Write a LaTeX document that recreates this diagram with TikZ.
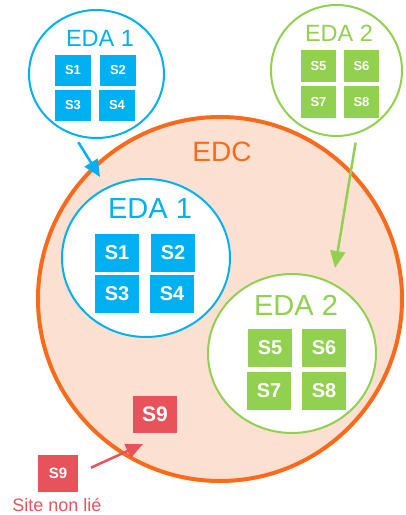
\documentclass[tikz,border=0pt]{standalone}
\usepackage{fontspec}
\setmainfont{Liberation Sans}
\usetikzlibrary{arrows.meta, shapes.geometric}

\definecolor{edablue}{HTML}{00B0F0}
\definecolor{edagreen}{HTML}{92D050}
\definecolor{edcorange}{HTML}{F96B1B}
\definecolor{edcfill}{HTML}{FCE1D3}
\definecolor{sitered}{HTML}{E8525A}
\newcommand{\fsz}[1]{\fontsize{#1}{#1}\selectfont}

\begin{document}
\begin{tikzpicture} [x=1pt, y=-1pt, align=center,
	zone/.style={ellipse, draw=#1, fill=white, line width=2pt, inner sep=0pt},
	zonename/.style={text=#1, inner sep=0pt},
	site/.style={fill=#1, text=white, inner sep=0pt, font=\bfseries},
	smallsite/.style={site=#1, minimum width=36pt, minimum height=31pt, font=\bfseries\fsz{13}},
	bigsite/.style={site=#1, minimum width=44pt, minimum height=38pt, font=\bfseries\fsz{20}},
	arr/.style={draw=#1, line width=2.5pt, -{Triangle[length=17pt, width=15pt, fill=#1]}}]
\useasboundingbox (0, 0) rectangle (406, 515);

\path (220, 299) node[circle, draw=edcorange, fill=edcfill, line width=4pt, minimum size=364pt] (edc) {}
	  (222, 152) node[zonename=edcorange, font=\fsz{28}] (edcl) {EDC};

\path (96.5, 74) node[zone=edablue, minimum width=135pt, minimum height=128pt] (eda1s) {}
	  (100, 38) node[zonename=edablue, font=\fsz{23.5}] (eda1sl) {EDA 1}
	  (73, 70.5) node[smallsite=edablue] (s1s) {S1}
	  (118, 70.5) node[smallsite=edablue] (s2s) {S2}
	  (73, 105.5) node[smallsite=edablue] (s3s) {S3}
	  (117, 105.5) node[smallsite=edablue] (s4s) {S4}

	  (336.5, 70.5) node[zone=edagreen, minimum width=131pt, minimum height=131pt] (eda2s) {}
	  (339, 33.5) node[zonename=edagreen, font=\fsz{23.5}] (eda2sl) {EDA 2}
	  (318.5, 66) node[smallsite=edagreen, minimum width=35pt, minimum height=32pt] (s5s) {S5}
	  (361.5, 66) node[smallsite=edagreen, minimum width=35pt, minimum height=32pt] (s6s) {S6}
	  (318.5, 102) node[smallsite=edagreen, minimum width=35pt, minimum height=32pt] (s7s) {S7}
	  (361.5, 102) node[smallsite=edagreen, minimum width=35pt, minimum height=32pt] (s8s) {S8};

\path (146, 258) node[zone=edablue, minimum width=168pt, minimum height=158pt] (eda1) {}
	  (150, 209) node[zonename=edablue, font=\fsz{29}] (eda1l) {EDA 1}
	  (117, 253) node[bigsite=edablue] (s1) {S1}
	  (173, 253) node[bigsite=edablue] (s2) {S2}
	  (117, 294) node[bigsite=edablue] (s3) {S3}
	  (172, 294) node[bigsite=edablue] (s4) {S4}

	  (292, 353.5) node[zone=edagreen, minimum width=168pt, minimum height=159pt] (eda2) {}
	  (296, 305) node[zonename=edagreen, font=\fsz{29}] (eda2l) {EDA 2}
	  (270, 348) node[bigsite=edagreen] (s5) {S5}
	  (324, 348) node[bigsite=edagreen] (s6) {S6}
	  (269, 391) node[bigsite=edagreen] (s7) {S7}
	  (324, 391) node[bigsite=edagreen] (s8) {S8}

	  (155, 414.5) node[bigsite=sitered, minimum height=37pt, font=\bfseries\fsz{21}] (s9) {S9}
	  (58, 473.5) node[site=sitered, minimum width=40pt, minimum height=37pt, font=\bfseries\fsz{15}] (s9out) {S9}
	  (57, 511) node[anchor=base, text=sitered, inner sep=0pt, font=\fsz{18}] (s9outl) {Site non lié};

\coordinate (in1) at (100, 177);
\coordinate (in2) at (335, 268);
\coordinate (in9) at (143, 444);

\draw[arr=edablue, shorten <=8pt] (eda1s.250) -- (in1);
\draw[arr=edagreen, shorten <=9pt] (eda2s.288) -- (in2);
\draw[arr=sitered, shorten <=14pt] (s9out.east) -- (in9);
\end{tikzpicture}
\end{document}
